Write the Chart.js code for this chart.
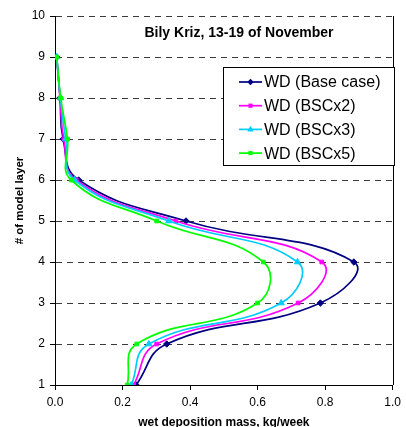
<!DOCTYPE html>
<html>
<head>
<meta charset="utf-8">
<script src="https://cdn.jsdelivr.net/npm/chart.js@4"></script>
<style>
  html, body { margin: 0; padding: 0; background: #fff; overflow: hidden; }
  #wrap { width: 406px; height: 436px; }
</style>
</head>
<body>
<div id="wrap"><canvas id="myChart" width="406" height="436"></canvas></div>
<script>
/* DATA */
var layers = [1, 2, 3, 4, 5, 6, 7, 8, 9];
var baseCase = [0.240, 0.331, 0.786, 0.885, 0.388, 0.070, 0.024, 0.015, 0.005];
var bscX2 = [0.233, 0.301, 0.720, 0.790, 0.358, 0.063, 0.026, 0.015, 0.005];
var bscX3 = [0.226, 0.278, 0.670, 0.718, 0.337, 0.058, 0.032, 0.016, 0.005];
var bscX5 = [0.214, 0.242, 0.600, 0.617, 0.301, 0.048, 0.037, 0.017, 0.005];
var seriesNames = ['WD (Base case)', 'WD (BSCx2)', 'WD (BSCx3)', 'WD (BSCx5)'];
var chartTitle = 'Bily Kriz, 13-19 of November';
/* DATA */

var FONT = "'Liberation Sans', Arial, sans-serif";

function toPoints(vals) {
    return vals.map(function(v, i) { return { x: v, y: layers[i] }; });
}

function makeSet(label, vals, color, style, radius, order) {
    return {
        label: label,
        data: toPoints(vals),
        borderColor: color,
        backgroundColor: color,
        borderWidth: 1.7,
        pointStyle: style,
        pointRadius: radius,
        pointBorderWidth: 1,
        showLine: true,
        tension: 0.45,
        order: order
    };
}

// title + legend box inside the plot, plus the right frame line
var insidePlugin = {
    id: 'inside',
    afterDraw: function(chart) {
        var ctx = chart.ctx;
        var a = chart.chartArea;
        ctx.save();
        ctx.strokeStyle = '#000';
        ctx.lineWidth = 1;
        ctx.beginPath();
        ctx.moveTo(Math.round(a.right) + 0.5, a.top);
        ctx.lineTo(Math.round(a.right) + 0.5, a.bottom);
        ctx.stroke();

        ctx.fillStyle = '#000';
        ctx.font = 'bold 14px ' + FONT;
        ctx.textAlign = 'center';
        ctx.textBaseline = 'middle';
        ctx.fillText(chartTitle, 239, 33);

        // legend box
        var bx = 223.5, by = 67.5, bw = 171, bh = 98;
        ctx.fillStyle = '#fff';
        ctx.fillRect(bx, by, bw, bh);
        ctx.strokeStyle = '#000';
        ctx.strokeRect(bx, by, bw, bh);
        ctx.font = '16px ' + FONT;
        ctx.textAlign = 'left';
        chart.data.datasets.forEach(function(ds, i) {
            var y = 82 + i * 23.7;
            ctx.strokeStyle = ds.borderColor;
            ctx.fillStyle = ds.borderColor;
            ctx.lineWidth = 1.7;
            ctx.beginPath();
            ctx.moveTo(239, y);
            ctx.lineTo(262, y);
            ctx.stroke();
            drawMarker(ctx, ds.pointStyle, 250.5, y, ds.pointRadius);
            ctx.fillStyle = '#000';
            ctx.fillText(ds.label, 264, y + 1);
        });
        ctx.restore();
    }
};

function drawMarker(ctx, style, x, y, r) {
    ctx.beginPath();
    if (style === 'rectRot') {
        ctx.moveTo(x, y - r); ctx.lineTo(x + r, y); ctx.lineTo(x, y + r); ctx.lineTo(x - r, y);
    } else if (style === 'triangle') {
        ctx.moveTo(x, y - r); ctx.lineTo(x + r * 0.9, y + r * 0.6); ctx.lineTo(x - r * 0.9, y + r * 0.6);
    } else {
        ctx.rect(x - r * 0.8, y - r * 0.8, r * 1.6, r * 1.6);
    }
    ctx.closePath();
    ctx.fill();
}

var config = {
    type: 'scatter',
    data: {
        datasets: [
            makeSet(seriesNames[0], baseCase, '#000080', 'rectRot', 3.2, 4),
            makeSet(seriesNames[1], bscX2, '#FF00FF', 'rect', 2.6, 3),
            makeSet(seriesNames[2], bscX3, '#00CCFF', 'triangle', 3.6, 2),
            makeSet(seriesNames[3], bscX5, '#00FF00', 'rect', 2.6, 1)
        ]
    },
    options: {
        responsive: false,
        animation: false,
        devicePixelRatio: 1,
        layout: { padding: { left: 0, right: 7, top: 16, bottom: 0 } },
        plugins: {
            legend: { display: false },
            tooltip: { enabled: false }
        },
        scales: {
            x: {
                type: 'linear',
                min: 0, max: 1,
                afterFit: function(s) { s.height = 51; },
                ticks: {
                    stepSize: 0.2,
                    color: '#000',
                    padding: 5,
                    font: { family: FONT, size: 12 },
                    maxRotation: 0,
                    callback: function(v) { return Number(v).toFixed(1); }
                },
                grid: { drawOnChartArea: false, drawTicks: true, tickLength: 5, color: '#000' },
                border: { color: '#000', width: 1 },
                title: {
                    display: true,
                    text: 'wet deposition mass, kg/week',
                    color: '#000',
                    font: { family: FONT, size: 12, weight: 'bold' },
                    padding: { top: 0, bottom: 6 }
                }
            },
            y: {
                type: 'linear',
                min: 1, max: 10,
                afterFit: function(s) { s.width = 55; },
                ticks: {
                    stepSize: 1,
                    color: '#000',
                    padding: 5,
                    font: { family: FONT, size: 12 }
                },
                grid: { color: '#3a3a3a', tickColor: '#000', tickLength: 5, tickBorderDash: [] },
                border: { color: '#000', width: 1, dash: [6, 5] },
                title: {
                    display: true,
                    text: '# of model layer',
                    color: '#000',
                    font: { family: FONT, size: 11.5, weight: 'bold' },
                    padding: { top: 13, bottom: 0 }
                }
            }
        }
    },
    plugins: [insidePlugin]
};

window.onload = function() {
    var ctx = document.getElementById('myChart').getContext('2d');
    window.myChart = new Chart(ctx, config);
};
</script>
</body>
</html>
